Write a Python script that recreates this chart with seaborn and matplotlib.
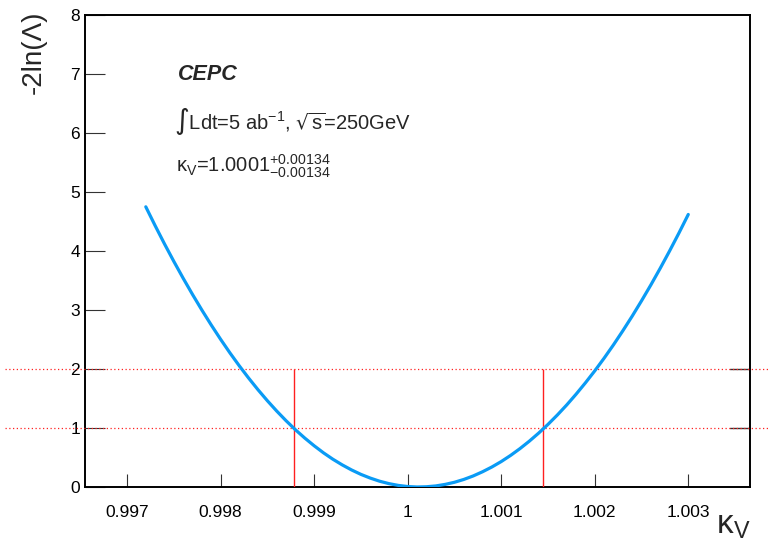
import matplotlib
matplotlib.use("Agg")
import matplotlib.pyplot as plt
import matplotlib.transforms as mtransforms
import seaborn as sns
import pandas as pd

# ---- data ----
kappa = [0.9972, 0.9973, 0.9974, 0.9975, 0.9976, 0.9977, 0.9978, 0.9979,
         0.9980, 0.9981, 0.9982, 0.9983, 0.9984, 0.9985, 0.9986, 0.9987,
         0.9988, 0.9989, 0.9990, 0.9991, 0.9992, 0.9993, 0.9994, 0.9995,
         0.9996, 0.9997, 0.9998, 0.9999, 1.0000, 1.0001, 1.0002, 1.0003,
         1.0004, 1.0005, 1.0006, 1.0007, 1.0008, 1.0009, 1.0010, 1.0011,
         1.0012, 1.0013, 1.0014, 1.0015, 1.0016, 1.0017, 1.0018, 1.0019,
         1.0020, 1.0021, 1.0022, 1.0023, 1.0024, 1.0025, 1.0026, 1.0027,
         1.0028, 1.0029, 1.0030]
nll = [4.749, 4.429, 4.120, 3.823, 3.537, 3.262, 2.998, 2.745,
       2.503, 2.272, 2.053, 1.845, 1.648, 1.462, 1.287, 1.123,
       0.970, 0.829, 0.699, 0.579, 0.471, 0.375, 0.289, 0.214,
       0.151, 0.098, 0.057, 0.027, 0.008, 0.000, 0.004, 0.018,
       0.044, 0.080, 0.128, 0.187, 0.258, 0.339, 0.431, 0.535,
       0.650, 0.776, 0.913, 1.061, 1.220, 1.390, 1.572, 1.765,
       1.968, 2.183, 2.409, 2.647, 2.895, 3.155, 3.425, 3.707,
       4.000, 4.304, 4.619]
interval_levels = [1, 2]
interval_bounds = [0.99878, 1.00145]
xticks = [0.997, 0.998, 0.999, 1.0, 1.001, 1.002, 1.003]
xticklabels = ["0.997", "0.998", "0.999", "1", "1.001", "1.002", "1.003"]
yticks = [0, 1, 2, 3, 4, 5, 6, 7, 8]

sns.set_theme(style="ticks")
plt.rcParams["font.family"] = ["Liberation Sans", "DejaVu Sans"]
plt.rcParams["mathtext.default"] = "regular"

fig = plt.figure(figsize=(7.7, 5.47), dpi=100)
W, H = 770, 547
ax = fig.add_axes([85 / W, 1 - 487 / H, 665 / W, 472 / H])

df = pd.DataFrame({"kappa": kappa, "nll": nll})
sns.lineplot(data=df, x="kappa", y="nll", ax=ax, color="#0a9bf5",
             linewidth=2.3, sort=False, zorder=5)

ax.set_xlim(0.99655, 1.00366)
ax.set_ylim(0, 8)

# red dotted horizontal lines (extend beyond axes)
for lv in interval_levels:
    ax.axhline(lv, xmin=-80 / 665, xmax=1 + 20 / 665, color="#ff2020",
               linestyle=(0, (1, 2)), linewidth=0.9, clip_on=False, zorder=3)
# red vertical lines
for b in interval_bounds:
    ax.vlines(b, 0, 2, color="#ff2020", linewidth=1.0, zorder=4)

# small dark segments on right side at levels 1, 2
trans = mtransforms.blended_transform_factory(ax.transAxes, ax.transData)
for lv in interval_levels:
    ax.plot([1 - 20 / 665, 1], [lv, lv], color="#333333", linewidth=1.0,
            transform=trans, zorder=2)

ax.set_xticks(xticks)
ax.set_xticklabels(xticklabels)
ax.set_yticks(yticks)
ax.tick_params(axis="x", direction="in", length=9.4, width=0.8, color="#333333",
               pad=13, labelsize=12.5, labelcolor="black")
ax.tick_params(axis="y", direction="in", length=14.4, width=0.8, color="#333333",
               pad=3.5, labelsize=12.5, labelcolor="black")
ax.tick_params(which="minor", length=0)
for s in ["left", "bottom", "top", "right"]:
    ax.spines[s].set_visible(True)
    ax.spines[s].set_color("black")
    ax.spines[s].set_linewidth(1.4)
ax.set_xlabel("")
ax.set_ylabel("")
ax.grid(False)

# axis titles
fig.text(34 / W, 1 - 11 / H, "-2ln(Λ)", rotation=90, ha="center", va="top",
         fontsize=20)
fig.text(750 / W, 1 - 541 / H, r"κ$_{V}$", ha="right", va="bottom", fontsize=24)

# annotations
fig.text(178 / W, 1 - 75 / H, "CEPC", fontsize=15.5, fontweight="bold",
         fontstyle="italic", va="center", ha="left")
fig.text(174 / W, 1 - 121 / H,
         r"$\int$Ldt=5 ab$^{-1}$, $\sqrt{s}$=250GeV", fontsize=14.5,
         va="center", ha="left")
fig.text(176 / W, 1 - 166 / H,
         r"κ$_{V}$=1.0001$^{+0.00134}_{-0.00134}$", fontsize=14.5,
         va="center", ha="left")

fig.savefig("out.png", dpi=100)
